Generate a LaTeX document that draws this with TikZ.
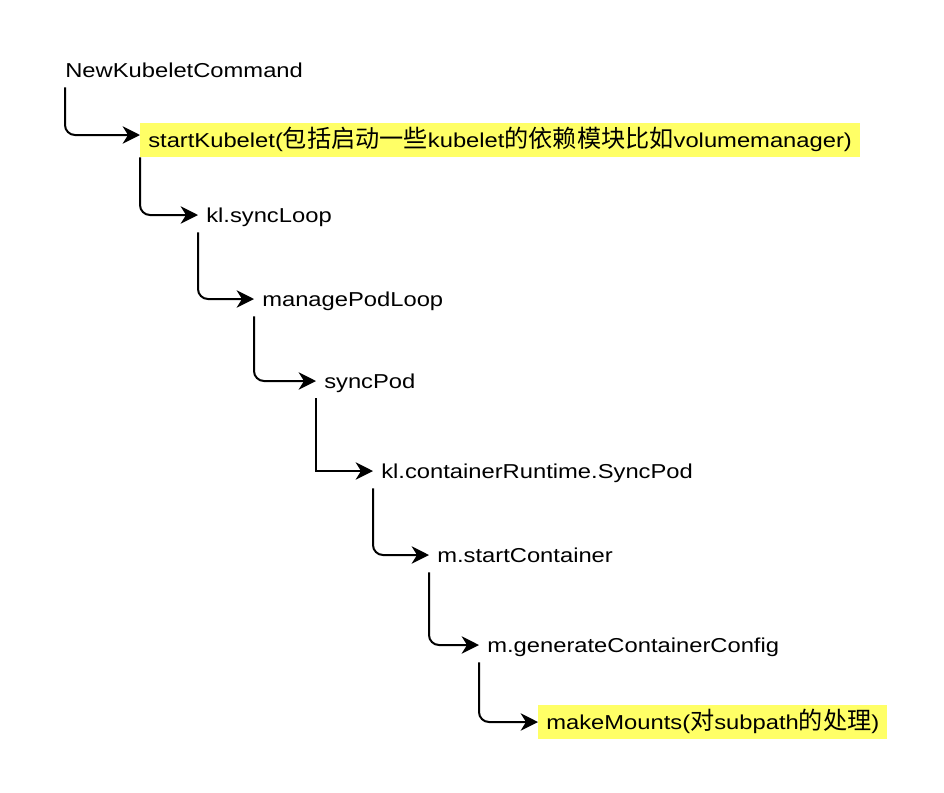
\documentclass[tikz,border=0pt]{standalone}
\usepackage{fontspec}
\setmainfont{Liberation Sans}[FakeStretch=1.18]
\newfontfamily\cjk{Noto Sans CJK SC}[Scale=1.2]
\usetikzlibrary{arrows.meta}

\tikzset{
    call/.style={anchor=west, inner xsep=6pt, inner ysep=0pt,
        text height=10.8pt, text depth=0pt, minimum height=25.5pt,
        font=\fontsize{15.1pt}{18pt}\selectfont},
    marked/.style={call, fill=hilite},
    link/.style={line width=1.5pt, rounded corners=7.5pt,
        -{Stealth[length=13pt, width=13pt, inset=4pt]}},
}

\begin{document}
\begin{tikzpicture}[x=0.75pt, y=-0.75pt]

    % Colour of the marked calls
    \definecolor{hilite}{RGB}{255,255,102}

    \useasboundingbox (0,0) rectangle (944,792);

    % Call chain
    \node[call, inner xsep=0pt] (cmd) at (65,70) {NewKubeletCommand};
    \node[marked] (start) at (140,140) {startKubelet({\cjk 包括启动一些}kubelet{\cjk 的依赖模块比如}volumemanager)};
    \node[call] (loop) at (198,215) {kl.syncLoop};
    \node[call] (manage) at (254,299) {managePodLoop};
    \node[call] (pod) at (316,381) {syncPod};
    \node[call] (runtime) at (373,471) {kl.containerRuntime.SyncPod};
    \node[call] (container) at (429,555) {m.startContainer};
    \node[call] (config) at (479,645) {m.generateContainerConfig};
    \node[marked] (mounts) at (538,722) {makeMounts({\cjk 对}subpath{\cjk 的处理})};

    % Connectors
    \draw[link] (cmd.south west) |- ([yshift=3.75pt]start.west);
    \draw[link] (start.south west) |- (loop.west);
    \draw[link] (loop.south west) |- (manage.west);
    \draw[link] (manage.south west) |- (pod.west);
    \draw[link, sharp corners] (pod.south west) |- (runtime.west);
    \draw[link] (runtime.south west) |- (container.west);
    \draw[link] (container.south west) |- (config.west);
    \draw[link] (config.south west) |- (mounts.west);

\end{tikzpicture}
\end{document}
